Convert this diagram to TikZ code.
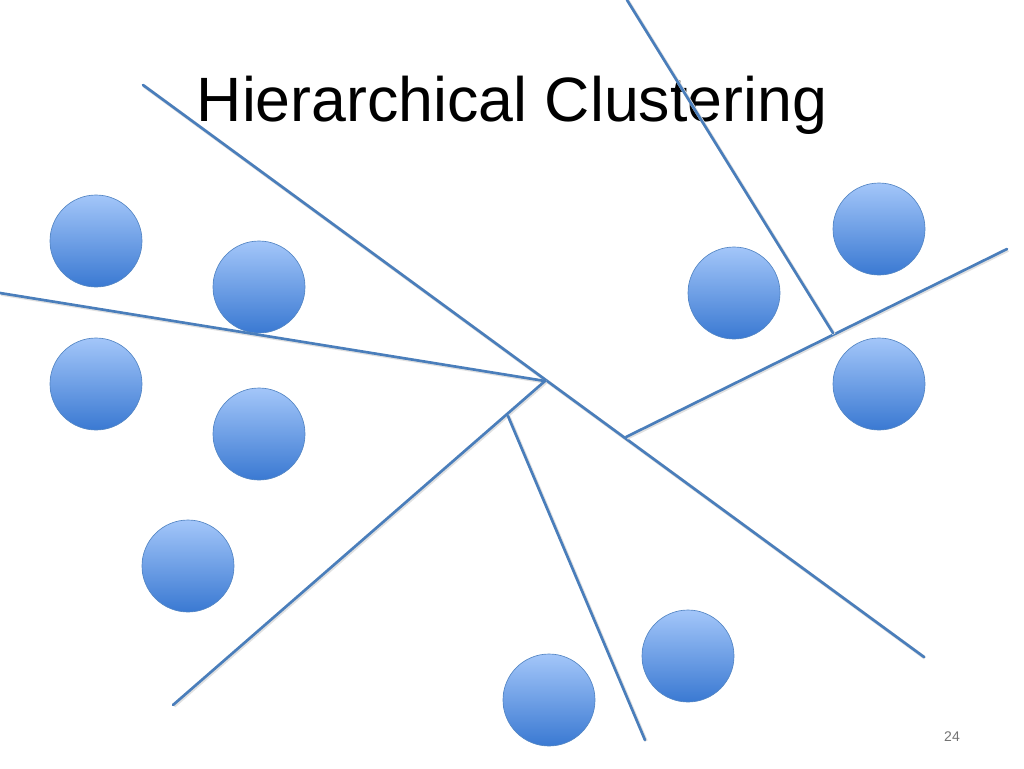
\documentclass[tikz,border=0pt]{standalone}
\usepackage{fontspec}
\setmainfont{Liberation Sans}
\usetikzlibrary{calc,positioning}

\definecolor{cutblue}{HTML}{4A7EBB}
\definecolor{balltop}{HTML}{A3C6F9}
\definecolor{ballbot}{HTML}{3A79D2}
\definecolor{ballrim}{HTML}{5486C4}

\begin{document}
\begin{tikzpicture}[x=0.75pt,y=-0.75pt]
    % Styles for points and cutting lines
    \tikzset{
        point/.style={circle, minimum size=69pt, inner sep=0pt,
            draw=ballrim, line width=0.5pt,
            top color=balltop, bottom color=ballbot},
        cut/.style={cutblue, line width=2pt, line cap=round,
            preaction={draw=black!12, line width=2.6pt, transform canvas={xshift=0.8pt,yshift=-0.8pt}}}
    }
    \useasboundingbox (0,0) rectangle (1024,768);

    % Title and page number
    \node[anchor=base] (title) at (512,121) {\fontsize{47}{51}\selectfont Hierarchical Clustering};
    \node[anchor=base, text=black!55] (page) at (952,741) {\fontsize{10.5}{12}\selectfont 24};

    % Data points
    \node[point] (p1) at (96,241) {};
    \node[point] (p2) at (259,287) {};
    \node[point] (p3) at (96,384) {};
    \node[point] (p4) at (259,434) {};
    \node[point] (p5) at (188,566) {};
    \node[point] (p6) at (734,293) {};
    \node[point] (p7) at (879,229) {};
    \node[point] (p8) at (879,384) {};
    \node[point] (p9) at (688,656) {};
    \node[point] (p10) at (549,700) {};

    % End points of the cuts
    \coordinate (main start) at (143,85);
    \coordinate (main end) at (924,657);
    \coordinate (hub) at (545,381);
    \coordinate (left end) at (0,293);
    \coordinate (low end) at (173,705);
    \coordinate (fork) at (508,416);
    \coordinate (bottom end) at (645,740);
    \coordinate (right fork) at (626,437);
    \coordinate (right end) at (1007,249);
    \coordinate (top end) at (627,0);
    \coordinate (top fork) at (833,333);

    % Cutting lines
    \draw[cut] (main start) -- (main end);
    \draw[cut] (left end) -- (hub);
    \draw[cut] (low end) -- (hub);
    \draw[cut] (fork) -- (bottom end);
    \draw[cut] (right fork) -- (right end);
    \draw[cut] (top end) -- (top fork);
\end{tikzpicture}
\end{document}
